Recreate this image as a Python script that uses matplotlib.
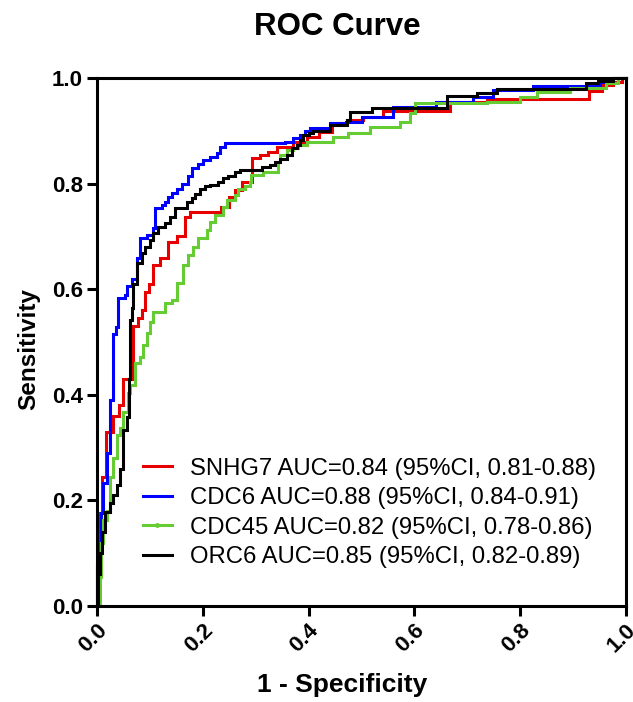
import matplotlib
matplotlib.use('Agg')
import matplotlib.pyplot as plt
import matplotlib.transforms as mtransforms
from matplotlib.lines import Line2D

plt.rcParams['font.family'] = ['Liberation Sans', 'DejaVu Sans']

# ── ROC data ────────────────────────────────────────────────────────────────
snhg7_fpr = [0, 0, 0.005, 0.010, 0.017, 0.030, 0.042, 0.050, 0.068, 0.078, 0.085,
             0.090, 0.098, 0.106, 0.119, 0.134, 0.151, 0.166, 0.176, 0.234, 0.250,
             0.260, 0.274, 0.293, 0.308, 0.323, 0.340, 0.370, 0.397, 0.420, 0.444,
             0.472, 0.503, 0.540, 0.667, 0.737, 0.930, 0.955, 0.975, 0.992, 1.0]
snhg7_tpr = [0, 0.08, 0.176, 0.245, 0.33, 0.36, 0.38, 0.43, 0.53, 0.545, 0.56,
             0.595, 0.61, 0.645, 0.66, 0.69, 0.70, 0.737, 0.746, 0.756, 0.775,
             0.788, 0.803, 0.848, 0.854, 0.86, 0.869, 0.879, 0.888, 0.898, 0.915,
             0.92, 0.926, 0.937, 0.955, 0.96, 0.975, 0.987, 0.992, 1.0, 1.0]

cdc6_fpr = [0, 0, 0.004, 0.008, 0.012, 0.019, 0.024, 0.030, 0.036, 0.040, 0.053,
            0.057, 0.066, 0.076, 0.081, 0.095, 0.106, 0.110, 0.123, 0.129, 0.134,
            0.142, 0.151, 0.160, 0.172, 0.180, 0.190, 0.200, 0.213, 0.226, 0.232,
            0.242, 0.355, 0.370, 0.383, 0.393, 0.403, 0.440, 0.470, 0.500, 0.560,
            0.640, 0.711, 0.749, 0.824, 0.950, 0.975, 1.0]
cdc6_tpr = [0, 0.074, 0.10, 0.176, 0.233, 0.29, 0.39, 0.515, 0.528, 0.583, 0.589,
            0.606, 0.62, 0.66, 0.697, 0.703, 0.716, 0.754, 0.76, 0.765, 0.775,
            0.782, 0.79, 0.80, 0.815, 0.83, 0.837, 0.845, 0.85, 0.858, 0.87,
            0.877, 0.879, 0.886, 0.892, 0.90, 0.905, 0.915, 0.917, 0.926, 0.945,
            0.955, 0.964, 0.977, 0.985, 0.992, 1.0, 1.0]

cdc45_fpr = [0, 0.005, 0.008, 0.012, 0.019, 0.025, 0.030, 0.037, 0.044, 0.050, 0.059,
             0.062, 0.072, 0.081, 0.087, 0.094, 0.100, 0.106, 0.128, 0.142, 0.151,
             0.163, 0.172, 0.181, 0.190, 0.208, 0.214, 0.223, 0.238, 0.245, 0.261,
             0.267, 0.280, 0.289, 0.292, 0.314, 0.342, 0.346, 0.359, 0.371, 0.380,
             0.397, 0.446, 0.474, 0.516, 0.573, 0.592, 0.601, 0.737, 0.800, 0.832,
             0.895, 0.963, 0.985, 1.0]
cdc45_tpr = [0, 0.055, 0.12, 0.163, 0.18, 0.244, 0.28, 0.324, 0.337, 0.367, 0.403,
             0.419, 0.46, 0.472, 0.494, 0.517, 0.538, 0.557, 0.574, 0.58, 0.611,
             0.645, 0.665, 0.68, 0.697, 0.712, 0.727, 0.74, 0.756, 0.769, 0.778,
             0.79, 0.795, 0.803, 0.816, 0.822, 0.841, 0.854, 0.864, 0.868, 0.873,
             0.879, 0.888, 0.895, 0.907, 0.917, 0.934, 0.953, 0.955, 0.964, 0.973,
             0.981, 0.99, 1.0, 1.0]

orc6_fpr = [0, 0.002, 0.005, 0.010, 0.015, 0.025, 0.030, 0.037, 0.044, 0.050, 0.057,
            0.060, 0.062, 0.066, 0.068, 0.076, 0.085, 0.090, 0.100, 0.106, 0.115,
            0.128, 0.138, 0.147, 0.170, 0.180, 0.186, 0.195, 0.204, 0.214, 0.229,
            0.238, 0.248, 0.261, 0.270, 0.312, 0.327, 0.337, 0.346, 0.359, 0.369,
            0.378, 0.384, 0.390, 0.400, 0.408, 0.440, 0.472, 0.478, 0.520, 0.662,
            0.718, 0.756, 0.925, 0.948, 0.975, 1.0]
orc6_tpr = [0, 0.06, 0.10, 0.14, 0.178, 0.195, 0.21, 0.23, 0.26, 0.333, 0.358,
            0.43, 0.542, 0.564, 0.61, 0.65, 0.668, 0.68, 0.693, 0.706, 0.718,
            0.725, 0.737, 0.754, 0.765, 0.773, 0.78, 0.79, 0.795, 0.798, 0.803,
            0.81, 0.815, 0.822, 0.825, 0.832, 0.836, 0.841, 0.847, 0.854, 0.867,
            0.874, 0.883, 0.892, 0.896, 0.90, 0.911, 0.92, 0.935, 0.943, 0.966,
            0.971, 0.979, 0.99, 0.994, 1.0, 1.0]

labels = ['SNHG7 AUC=0.84 (95%CI, 0.81-0.88)',
          'CDC6 AUC=0.88 (95%CI, 0.84-0.91)',
          'CDC45 AUC=0.82 (95%CI, 0.78-0.86)',
          'ORC6 AUC=0.85 (95%CI, 0.82-0.89)']
colors = ['#e60000', '#0000ff', '#66cc33', '#000000']
ticks = [0.0, 0.2, 0.4, 0.6, 0.8, 1.0]
tick_labels = ['0.0', '0.2', '0.4', '0.6', '0.8', '1.0']

curves = [(snhg7_fpr, snhg7_tpr), (cdc6_fpr, cdc6_tpr),
          (cdc45_fpr, cdc45_tpr), (orc6_fpr, orc6_tpr)]

# ── Figure ──────────────────────────────────────────────────────────────────
fig = plt.figure(figsize=(6.33, 7.02), dpi=100)
ax = fig.add_axes([97 / 633, 1 - 606 / 702, 529 / 633, 528 / 702])

for (fx, ty), c in zip(curves, colors):
    ax.plot(fx, ty, drawstyle='steps-post', color=c, lw=2.2,
            solid_joinstyle='miter', clip_on=False)

ax.set_xlim(0, 1)
ax.set_ylim(0, 1)
ax.set_xticks(ticks)
ax.set_yticks(ticks)
ax.set_xticklabels(tick_labels, rotation=45, ha='center', va='top',
                   fontsize=16, fontweight='bold')
ax.set_yticklabels(tick_labels, fontsize=16, fontweight='bold')
ax.tick_params(direction='out', length=7, width=2.2, pad=3)
for sp in ax.spines.values():
    sp.set_linewidth(2.2)

# nudge rotated x labels a little left, like the reference
shift = mtransforms.ScaledTranslation(-4 / 100, 0, fig.dpi_scale_trans)
for lab in ax.get_xticklabels():
    lab.set_transform(lab.get_transform() + shift)

ax.set_xlabel('1 - Specificity', fontsize=19, fontweight='bold')
ax.xaxis.set_label_coords((342 - 97) / 529, -(673 - 606) / 528)
ax.set_ylabel('Sensitivity', fontsize=17.5, fontweight='bold')
ax.yaxis.set_label_coords(-(97 - 40) / 529, (606 - 349) / 528)
fig.text(337 / 633, 1 - 27 / 702, 'ROC Curve', fontsize=22.5, fontweight='bold',
         ha='center', va='center')

handles = []
for i, c in enumerate(colors):
    if i == 2:
        handles.append(Line2D([], [], color=c, lw=2.2, marker='o', markersize=2.5))
    else:
        handles.append(Line2D([], [], color=c, lw=2.2))
ax.legend(handles, labels, loc='lower left', frameon=False,
          bbox_to_anchor=(143 / 633, 1 - 568 / 702), bbox_transform=fig.transFigure,
          borderpad=0, borderaxespad=0, handlelength=1.2, handletextpad=0.75,
          labelspacing=0.31, fontsize=17.2)

fig.savefig('out.png', dpi=100)
